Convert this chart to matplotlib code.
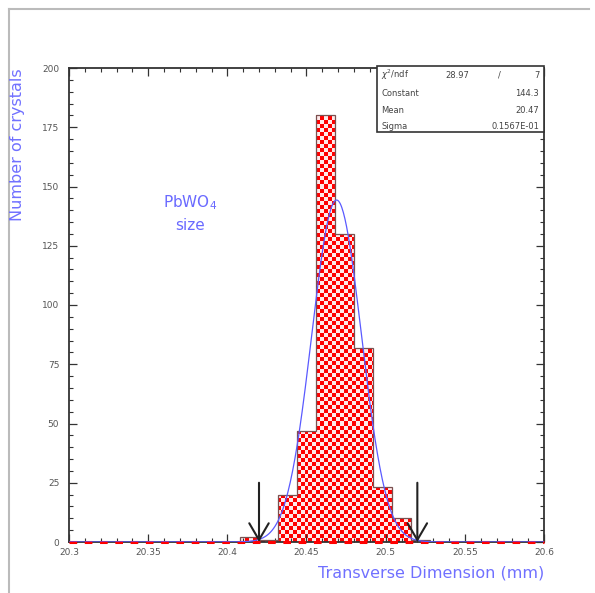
import numpy as np
import matplotlib
matplotlib.use("Agg")
import matplotlib.pyplot as plt
from matplotlib.lines import Line2D
from matplotlib.patches import Rectangle

# Histograma de dimension transversal de cristales PbWO4
bin_edges = np.round(np.arange(20.3, 20.6 + 1e-9, 0.012), 3)
counts = [0, 0, 0, 0, 0, 0, 0, 0, 0, 2, 1, 20, 47, 180, 130, 82, 23, 10, 1,
          0, 0, 0, 0, 0, 0]

# Parametros del ajuste gaussiano (caja de estadisticas)
fit_constant = 144.3
fit_mean = 20.469
fit_sigma = 0.01567
stats_rows = [("Constant", "144.3"), ("Mean", "20.47"), ("Sigma", "0.1567E-01")]
chi2_txt, ndf_txt = "28.97", "7"

# Flechas de corte
cut_positions = [20.42, 20.52]
cut_height = 25

x_ticks = [20.3, 20.35, 20.4, 20.45, 20.5, 20.55, 20.6]
x_ticklabels = ["20.3", "20.35", "20.4", "20.45", "20.5", "20.55", "20.6"]
y_ticks = [0, 25, 50, 75, 100, 125, 150, 175, 200]

W, H = 595, 593
fig = plt.figure(figsize=(W / 100, H / 100), dpi=100)
fig.patch.set_facecolor("white")
ax = fig.add_axes([69 / W, 51 / H, 475 / W, 474 / H])

label_col = "#7070ff"
tick_col = "#555555"

# Relleno rojo + patron de cuadros blancos recortado al histograma
fill = ax.stairs(counts, bin_edges, fill=True, facecolor="#ff0000",
                 edgecolor="none", zorder=1)
nx, ny = 119, 118
checker = np.zeros((ny, nx, 4))
mask = (np.add.outer(np.arange(ny), np.arange(nx)) % 2) == 0
checker[mask] = [1, 1, 1, 0.92]
img = ax.imshow(checker, extent=(0, 1, 0, 1), transform=ax.transAxes,
                aspect="auto", interpolation="nearest", zorder=1.5)
img.set_clip_path(fill)
ax.stairs(counts, bin_edges, fill=False, edgecolor="#7a5050", lw=0.9,
          baseline=None, zorder=2)
ax.axhline(0, color="#ff0000", lw=2.2, dashes=(2.5, 2.5), zorder=3,
           clip_on=False)

# Curva del ajuste
xs = np.linspace(20.3, 20.6, 600)
ax.plot(xs, fit_constant * np.exp(-0.5 * ((xs - fit_mean) / fit_sigma) ** 2),
        color="#5a5aff", lw=0.9, zorder=4)

for xc in cut_positions:
    ax.annotate("", xy=(xc, 0), xytext=(xc, cut_height),
                arrowprops=dict(arrowstyle="->,head_length=1.2,head_width=0.7",
                                color="#222222", lw=1.5, shrinkA=0, shrinkB=0),
                zorder=5)

ax.set_xlim(20.3, 20.6)
ax.set_ylim(0, 200)
ax.set_xticks(x_ticks)
ax.set_xticklabels(x_ticklabels)
ax.set_yticks(y_ticks)
ax.set_xticks(np.arange(20.3, 20.6 + 1e-9, 0.01), minor=True)
ax.set_yticks(np.arange(0, 201, 5), minor=True)
ax.tick_params(which="both", direction="in", top=True, right=True,
               color="#333333", labelcolor=tick_col, labelsize=6.5)
ax.tick_params(which="major", length=6, width=0.9)
ax.tick_params(which="minor", length=3, width=0.8)
ax.tick_params(axis="y", pad=7)
ax.tick_params(axis="x", pad=4)
for sp in ax.spines.values():
    sp.set_linewidth(1.3)
    sp.set_color("#333333")

# Caja de estadisticas
ax.add_patch(Rectangle((0.648, 0.865), 0.352, 0.139, transform=ax.transAxes,
                       facecolor="white", edgecolor="#333333", lw=1.2,
                       clip_on=False, zorder=6))
row_y = [0.985, 0.947, 0.911, 0.877]
txt_kw = dict(transform=ax.transAxes, fontsize=6, color="#444444",
              va="center", zorder=7)
ax.text(0.657, row_y[0], r"$\chi^2$/ndf", ha="left", **txt_kw)
ax.text(0.817, row_y[0], chi2_txt, ha="center", **txt_kw)
ax.text(0.907, row_y[0], "/", ha="center", **txt_kw)
ax.text(0.99, row_y[0], ndf_txt, ha="right", **txt_kw)
for (name, val), yy in zip(stats_rows, row_y[1:]):
    ax.text(0.657, yy, name, ha="left", **txt_kw)
    ax.text(0.99, yy, val, ha="right", **txt_kw)

fig.text(190 / W, 1 - 203 / H, "PbWO$_4$", ha="center", va="center",
         fontsize=11, color="#6a6aff")
fig.text(190 / W, 1 - 226 / H, "size", ha="center", va="center",
         fontsize=11, color="#6a6aff")

fig.text(18 / W, 1 - 68 / H, "Number of crystals", rotation=90, ha="center",
         va="top", fontsize=11.5, color=label_col)
fig.text(544 / W, 1 - 573 / H, "Transverse Dimension (mm)", ha="right",
         va="center", fontsize=11.5, color=label_col)

# Marco gris del lienzo
fig.add_artist(Line2D([9 / W, 589 / W], [1 - 9 / H, 1 - 9 / H],
                      color="#bbbbbb", lw=1.5))
fig.add_artist(Line2D([9 / W, 9 / W], [0, 1 - 9 / H], color="#bbbbbb", lw=1.5))

fig.savefig("out.png", dpi=100)
